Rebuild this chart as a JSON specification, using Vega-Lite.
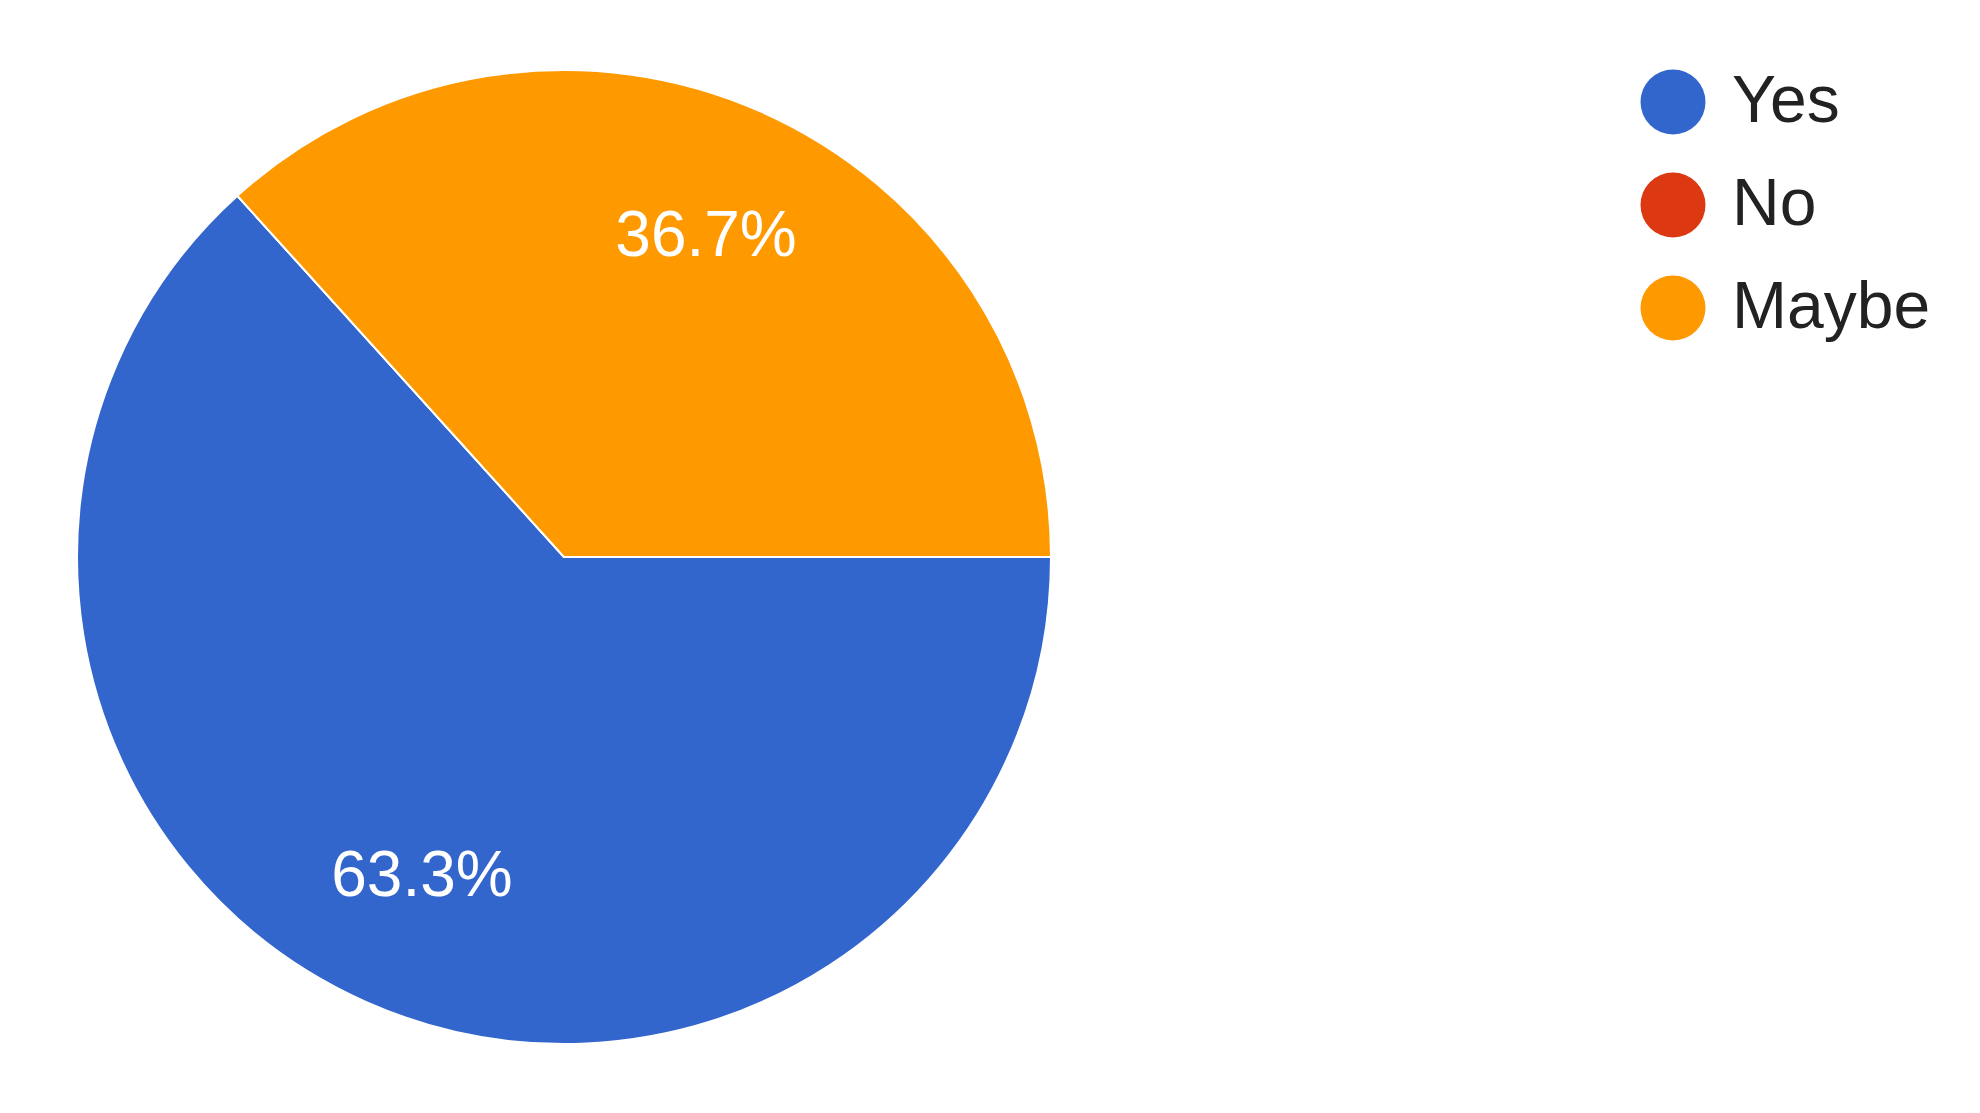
{
  "$schema": "https://vega.github.io/schema/vega-lite/v6.json",
  "autosize": "none",
  "width": 974,
  "height": 974,
  "padding": {"left": 77, "top": 70, "right": 929, "bottom": 69},
  "background": "white",
  "config": {"view": {"stroke": null}, "font": "Liberation Sans"},
  "data": {
    "values": [
      {"answer": "Yes", "share": 0.633, "rank": 1},
      {"answer": "No", "share": 0, "rank": 2},
      {"answer": "Maybe", "share": 0.367, "rank": 3}
    ]
  },
  "layer": [
    {
      "mark": {"type": "arc", "outerRadius": 487, "stroke": "white", "strokeWidth": 2},
      "encoding": {
        "theta": {"field": "share", "type": "quantitative", "stack": true, "scale": {"range": [1.5707963, 7.8539816]}},
        "order": {"field": "rank", "type": "quantitative"},
        "color": {
          "field": "answer",
          "type": "nominal",
          "scale": {"domain": ["Yes", "No", "Maybe"], "range": ["#3366cc", "#dc3912", "#ff9900"]},
          "legend": {
            "title": null,
            "orient": "none",
            "legendX": 1563,
            "legendY": -1,
            "symbolType": "circle",
            "symbolSize": 4225,
            "symbolStrokeWidth": 0,
            "labelFontSize": 66,
            "labelColor": "#222222",
            "labelFont": "Liberation Sans",
            "labelOffset": 26,
            "rowPadding": 37,
            "labelLimit": 400
          }
        }
      }
    },
    {
      "mark": {"type": "text", "radius": 350, "fill": "white", "fontSize": 64, "font": "Liberation Sans", "align": "center", "baseline": "middle"},
      "encoding": {
        "theta": {"field": "share", "type": "quantitative", "stack": true},
        "order": {"field": "rank", "type": "quantitative"},
        "detail": {"field": "answer", "type": "nominal"},
        "text": {"condition": {"test": "datum.share > 0", "field": "share", "type": "quantitative", "format": ".1%"}, "value": ""}
      }
    }
  ]
}
